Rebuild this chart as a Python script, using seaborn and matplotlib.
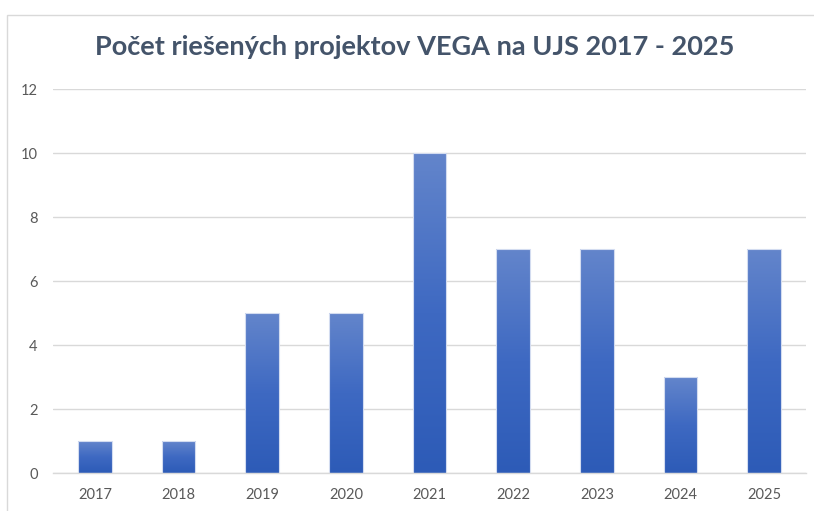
import numpy as np
import pandas as pd
import seaborn as sns
import matplotlib
matplotlib.use("Agg")
import matplotlib.pyplot as plt
from matplotlib.colors import LinearSegmentedColormap
from matplotlib.patches import Rectangle

years = ["2017", "2018", "2019", "2020", "2021", "2022", "2023", "2024", "2025"]
projects = [1, 1, 5, 5, 10, 7, 7, 3, 7]
yticks = [0, 2, 4, 6, 8, 10, 12]
title = "Počet riešených projektov VEGA na UJS 2017 - 2025"

sns.set_theme(style="white")
plt.rcParams["font.family"] = ["Lato", "DejaVu Sans"]

df = pd.DataFrame({"rok": years, "pocet": projects})

fig = plt.figure(figsize=(8.14, 5.11), dpi=100)
ax = fig.add_axes([53 / 814, 1 - 473 / 511, (806 - 53) / 814, (473 - 89) / 511])

sns.barplot(data=df, x="rok", y="pocet", ax=ax, width=0.4, color="#4472C4",
            edgecolor="#D3DCF0", linewidth=0.8, zorder=2)

cmap = LinearSegmentedColormap.from_list("g", ["#2D5BB7", "#3E69C2", "#6385CB"])
grad = np.linspace(0, 1, 256).reshape(-1, 1)
for p in ax.patches:
    x0, y0, w, h = p.get_x(), p.get_y(), p.get_width(), p.get_height()
    p.set_facecolor("none")
    im = ax.imshow(grad, extent=[x0, x0 + w, y0, y0 + h], origin="lower",
                   cmap=cmap, aspect="auto", zorder=1.9, interpolation="bilinear")
    im.set_clip_path(p)

ax.set_xlim(-0.5, len(years) - 0.5)
ax.set_ylim(0, 12)
ax.set_yticks(yticks)
ax.set_xlabel("")
ax.set_ylabel("")
ax.yaxis.grid(True, color="#D9D9D9", linewidth=1.0, zorder=0)
ax.set_axisbelow(True)
for s in ["top", "right", "left"]:
    ax.spines[s].set_visible(False)
ax.spines["bottom"].set_color("#D9D9D9")
ax.spines["bottom"].set_linewidth(1.0)

ax.tick_params(axis="y", length=0, pad=11, labelsize=10.5, labelcolor="#595959")
ax.tick_params(axis="x", which="major", length=0, pad=10.5, labelsize=10.5, labelcolor="#595959")
ax.set_xticks(np.arange(-0.5, len(years), 1.0), minor=True)
ax.tick_params(axis="x", which="minor", length=3.5, width=1.0, color="#D9D9D9", direction="out")

fig.text(415 / 814, 1 - 47 / 511, title, ha="center", va="center",
         fontsize=19.5, fontweight="bold", color="#44546A")

fig.patches.append(Rectangle((7 / 814, -0.1), 1.2, (1 - 15 / 511) + 0.1,
                             transform=fig.transFigure, fill=False,
                             edgecolor="#D9D9D9", linewidth=1.0, zorder=0))

fig.savefig("out.png", dpi=100)
